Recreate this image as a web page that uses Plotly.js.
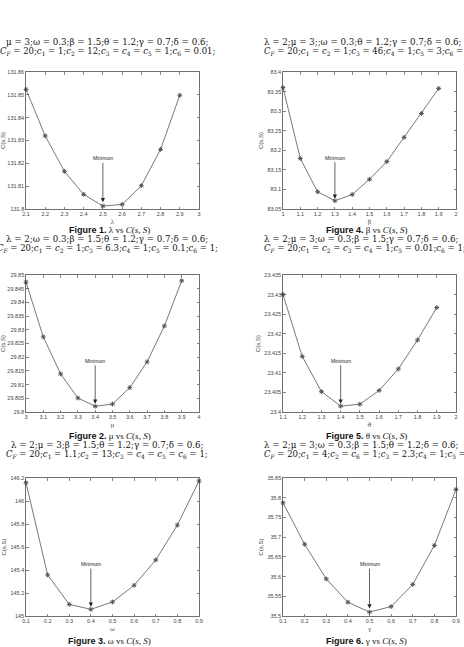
<!DOCTYPE html>
<html><head><meta charset="utf-8">
<script src="https://cdn.plot.ly/plotly-3.0.1.min.js"></script>
<style>html,body{margin:0;padding:0;background:#fff}#c{width:464px;height:647px}</style>
</head><body><div id="c"></div>
<script>
// ---- data ----
const lambdaX = [2.1,2.2,2.3,2.4,2.5,2.6,2.7,2.8,2.9];
const lambdaC = [131.8524,131.8320,131.8165,131.8064,131.8013,131.8020,131.8102,131.8261,131.8498];
const muX = [3.0,3.1,3.2,3.3,3.4,3.5,3.6,3.7,3.8,3.9];
const muC = [29.8474,29.8274,29.8139,29.8051,29.8021,29.8029,29.8089,29.8183,29.8314,29.8479];
const omegaX = [0.1,0.2,0.3,0.4,0.5,0.6,0.7,0.8,0.9];
const omegaC = [146.159,145.357,145.101,145.058,145.122,145.267,145.487,145.791,146.174];
const betaX = [1.0,1.1,1.2,1.3,1.4,1.5,1.6,1.7,1.8,1.9];
const betaC = [83.360,83.179,83.094,83.071,83.087,83.126,83.171,83.233,83.294,83.358];
const thetaX = [1.1,1.2,1.3,1.4,1.5,1.6,1.7,1.8,1.9];
const thetaC = [23.4300,23.4142,23.4052,23.4015,23.4020,23.4055,23.4110,23.4184,23.4267];
const gammaX = [0.1,0.2,0.3,0.4,0.5,0.6,0.7,0.8,0.9];
const gammaC = [35.787,35.682,35.594,35.535,35.510,35.524,35.580,35.679,35.821];

const xTitles = ['λ','μ','ω','β','ϑ','γ'];
const yTitle = 'C(s,S)';
const captionNums = ['Figure 1.','Figure 2.','Figure 3.','Figure 4.','Figure 5.','Figure 6.'];
const captionVars = ['λ','μ','ω','β','θ','γ'];
const headers = [
 ['μ = 3;ω = 0.3;β = 1.5;θ = 1.2;γ = 0.7;δ = 0.6;',
  '<i>C</i><sub><i>F</i></sub> = 20;<i>c</i><sub>1</sub> = 1;<i>c</i><sub>2</sub> = 12;<i>c</i><sub>3</sub> = <i>c</i><sub>4</sub> = <i>c</i><sub>5</sub> = 1;<i>c</i><sub>6</sub> = 0.01;'],
 ['λ = 2;ω = 0.3;β = 1.5;θ = 1.2;γ = 0.7;δ = 0.6;',
  '<i>C</i><sub><i>F</i></sub> = 20;<i>c</i><sub>1</sub> = <i>c</i><sub>2</sub> = 1;<i>c</i><sub>3</sub> = 6.3;<i>c</i><sub>4</sub> = 1;<i>c</i><sub>5</sub> = 0.1;<i>c</i><sub>6</sub> = 1;'],
 ['λ = 2;μ = 3;β = 1.5;θ = 1.2;γ = 0.7;δ = 0.6;',
  '<i>C</i><sub><i>F</i></sub> = 20;<i>c</i><sub>1</sub> = 1.1;<i>c</i><sub>2</sub> = 13;<i>c</i><sub>3</sub> = <i>c</i><sub>4</sub> = <i>c</i><sub>5</sub> = <i>c</i><sub>6</sub> = 1;'],
 ['λ = 2;μ = 3;;ω = 0.3;θ = 1.2;γ = 0.7;δ = 0.6;',
  '<i>C</i><sub><i>F</i></sub> = 20;<i>c</i><sub>1</sub> = <i>c</i><sub>2</sub> = 1;<i>c</i><sub>3</sub> = 46;<i>c</i><sub>4</sub> = 1;<i>c</i><sub>5</sub> = 3;<i>c</i><sub>6</sub> = 1;'],
 ['λ = 2;μ = 3;ω = 0.3;β = 1.5;γ = 0.7;δ = 0.6;',
  '<i>C</i><sub><i>F</i></sub> = 20;<i>c</i><sub>1</sub> = <i>c</i><sub>2</sub> = <i>c</i><sub>3</sub> = <i>c</i><sub>4</sub> = 1;<i>c</i><sub>5</sub> = 0.01;<i>c</i><sub>6</sub> = 1;'],
 ['λ = 2;μ = 3;ω = 0.3;β = 1.5;θ = 1.2;δ = 0.6;',
  '<i>C</i><sub><i>F</i></sub> = 20;<i>c</i><sub>1</sub> = 4;<i>c</i><sub>2</sub> = <i>c</i><sub>6</sub> = 1;<i>c</i><sub>3</sub> = 2.3;<i>c</i><sub>4</sub> = 1;<i>c</i><sub>5</sub> = 0.01;']
];
// minimum annotation: [x, text y, arrow tip y]
const minima = [
 [2.5,131.8222,131.8030],
 [3.4,29.8187,29.8030],
 [0.4,145.452,145.080],
 [1.3,83.181,83.076],
 [1.4,23.4131,23.4021],
 [0.5,35.6315,35.519]
];
const series = [[lambdaX,lambdaC],[muX,muC],[omegaX,omegaC],[betaX,betaC],[thetaX,thetaC],[gammaX,gammaC]];
const xRanges = [[2.1,3],[3,4],[0.1,0.9],[1,2],[1.1,2],[0.1,0.9]];
const yRanges = [[131.8,131.86],[29.8,29.85],[145,146.2],[83.05,83.4],[23.4,23.435],[35.5,35.85]];
const yDticks = [0.01,0.005,0.2,0.05,0.005,0.05];

// ---- layout geometry (pixels) ----
const W=464,H=647;
const colX = [[26,199],[283,456]];
const rowY = [[72,209],[275,412],[478,616]];
const capY = [230,436,641];
const hdrY = [[42,52],[239.5,248.5],[445,454]];
const hdrSize = [8.7,8.5];

const traces=[]; const layout={width:W,height:H,margin:{l:0,r:0,t:0,b:0},showlegend:false,
 paper_bgcolor:'#fff',plot_bgcolor:'#fff',annotations:[],font:{family:'Liberation Sans, Arial',color:'#444'}};
const px=v=>v/W, py=v=>1-v/H;
for(let i=0;i<6;i++){
  const col=i<3?0:1, row=i%3, n=i+1;
  const xa='xaxis'+(n===1?'':n), ya='yaxis'+(n===1?'':n);
  const xr='x'+(n===1?'':n), yr='y'+(n===1?'':n);
  traces.push({x:series[i][0],y:series[i][1],xaxis:xr,yaxis:yr,type:'scatter',mode:'lines+markers',
    line:{color:'#555',width:0.8},marker:{symbol:'asterisk-open',size:4,line:{color:'#222',width:1}},cliponaxis:false});
  const common={showline:true,linecolor:'#333',linewidth:0.7,mirror:'ticks',ticks:'inside',ticklen:2.5,
    tickcolor:'#333',tickwidth:0.6,showgrid:false,zeroline:false,tickfont:{size:5.5,color:'#444',family:'Liberation Sans, Arial'}};
  layout[xa]=Object.assign({},common,{domain:[px(colX[col][0]),px(colX[col][1])],range:xRanges[i],dtick:0.1,tick0:0,
    anchor:yr,title:{text:xTitles[i],font:{size:6,color:'#555',family:'DejaVu Serif'},standoff:3}});
  layout[ya]=Object.assign({},common,{domain:[py(rowY[row][1]),py(rowY[row][0])],range:yRanges[i],dtick:yDticks[i],tick0:0,
    anchor:xr,title:{text:yTitle,font:{size:6,color:'#444'},standoff:3}});
  // minimum annotation
  layout.annotations.push({xref:xr,yref:yr,axref:xr,ayref:yr,x:minima[i][0],y:minima[i][2],ax:minima[i][0],ay:minima[i][1],
    text:'Minimum',font:{size:5,color:'#222'},showarrow:true,arrowhead:2,arrowsize:1.2,arrowwidth:0.7,arrowcolor:'#222'});
  // caption
  layout.annotations.push({xref:'paper',yref:'paper',x:px((colX[col][0]+colX[col][1])/2-3),y:py(capY[row]),xanchor:'center',yanchor:'middle',
    showarrow:false,text:'<span style="font-family:Liberation Sans;font-weight:bold">'+captionNums[i]+'</span> '+captionVars[i]+' vs <i>C</i>(<i>s</i>, <i>S</i>)',
    font:{size:9,color:'#111',family:'Liberation Serif'}});
  // headers
  for(let k=0;k<2;k++){
    const a={xref:'paper',yref:'paper',y:py(hdrY[row][k]),yanchor:'middle',showarrow:false,text:headers[i][k],
      font:{size:hdrSize[k],color:'#111',family:'DejaVu Serif'}};
    if(col===0){a.x=px(107);a.xanchor='center';} else {a.x=px(262);a.xanchor='left';}
    layout.annotations.push(a);
  }
}
Plotly.newPlot('c',traces,layout,{staticPlot:true});
</script></body></html>
